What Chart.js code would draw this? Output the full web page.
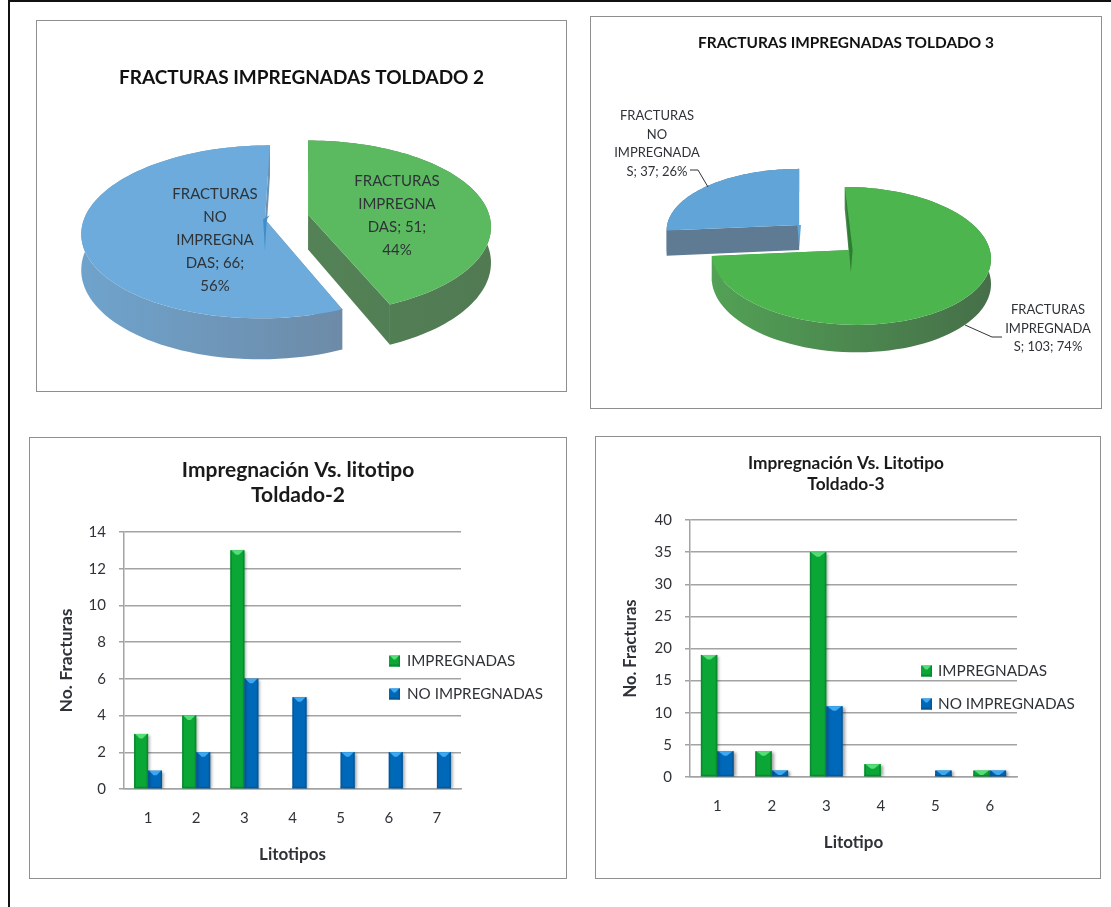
<!DOCTYPE html>
<html>
<head>
<meta charset="utf-8">
<script src="https://cdn.jsdelivr.net/npm/chart.js@4"></script>
<style>
html,body{margin:0;padding:0;background:#fff;overflow:hidden}
#wrap{position:absolute;left:0;top:0;width:1111px;height:907px;filter:blur(0.55px)}
#frameL{position:absolute;left:8px;top:0;width:2px;height:907px;background:#111}
#frameT{position:absolute;left:8px;top:0;width:1103px;height:2px;background:#111}
.box{position:absolute;box-sizing:border-box;border:1px solid #8f8f8f;background:#fff}
.box canvas{position:absolute;left:-1px;top:-1px}
</style>
</head>
<body>
<div id="wrap">
<div id="frameL"></div><div id="frameT"></div>
<div class="box" style="left:36px;top:20px;width:531px;height:372px"><canvas id="c1" width="531" height="372"></canvas></div>
<div class="box" style="left:590px;top:16px;width:512px;height:393px"><canvas id="c2" width="512" height="393"></canvas></div>
<div class="box" style="left:29px;top:437px;width:538px;height:442px"><canvas id="c3" width="538" height="442"></canvas></div>
<div class="box" style="left:595px;top:436px;width:506px;height:443px"><canvas id="c4" width="506" height="443"></canvas></div>
</div>
<script>
// ---------- data ----------
const pieLabels = ['FRACTURAS IMPREGNADAS', 'FRACTURAS NO IMPREGNADAS'];
const pieT2Values = [51, 66];
const pieT3Values = [103, 37];
const pieT2Text = [['FRACTURAS','IMPREGNA','DAS; 51;','44%'], ['FRACTURAS','NO','IMPREGNA','DAS; 66;','56%']];
const pieT3Text = [['FRACTURAS','IMPREGNADA','S; 103; 74%'], ['FRACTURAS','NO','IMPREGNADA','S; 37; 26%']];
const seriesNames = ['IMPREGNADAS', 'NO IMPREGNADAS'];
const litoT2 = ['1','2','3','4','5','6','7'];
const impT2 = [3,4,13,0,0,0,0];
const noImpT2 = [1,2,6,5,2,2,2];
const litoT3 = ['1','2','3','4','5','6'];
const impT3 = [19,4,35,2,0,1];
const noImpT3 = [4,1,11,0,1,1];
// ---------- style ----------
const FONT = 'Lato, "Open Sans", sans-serif';
const TXT = '#2f3338';
const GREEN = '#0aa636', BLUE = '#0068b8';
const GRID = '#a3a3a3';

// keeps each title centred on its whole panel although the plot leaves room for the legend
const titleFull = {
  id: 'titleFull',
  afterLayout(chart) {
    const shift = chart.options.plugins.title.shift || 0;
    chart.titleBlock.left = shift;
    chart.titleBlock.right = chart.width + shift;
  }
};

const pie3d = {
  id: 'pie3d',
  beforeDatasetsDraw(chart, args, o) {
    const ctx = chart.ctx, els = chart.getDatasetMeta(0).data;
    els.forEach((el, i) => {
      const R = el.outerRadius;
      const a0 = el.startAngle + Math.PI/2, a1 = el.endAngle + Math.PI/2, mid = (a0+a1)/2;
      const cx = el.x + Math.sin(mid)*o.explodeX, cy = el.y - Math.cos(mid)*o.explodeY;
      const rx = R*o.kx*o.scaleX[i], ry = R*o.ky*o.scaleY[i], sk = o.skew[i];
      const pt = t => {
        const X = Math.sin(t), Y = Math.cos(t), w = 1 + o.persp*Y;
        return {x: cx + rx*X/w + sk*Y, y: cy - ry*Y/w, d: o.depth/w};
      };
      const N = 90, arc = [];
      for (let k = 0; k <= N; k++) arc.push(pt(a0 + (a1-a0)*k/N));
      const first = arc[0], last = arc[N];
      const grad = ctx.createLinearGradient(cx-rx, 0, cx+rx, 0);
      grad.addColorStop(0, o.wall[i][0]); grad.addColorStop(1, o.wall[i][1]);
      ctx.save();
      ctx.fillStyle = grad;
      [first, last].forEach(e => {
        ctx.beginPath(); ctx.moveTo(cx, cy); ctx.lineTo(e.x, e.y);
        ctx.lineTo(e.x, e.y+e.d); ctx.lineTo(cx, cy+o.depth); ctx.closePath(); ctx.fill();
      });
      ctx.beginPath();
      arc.forEach((p, k) => k ? ctx.lineTo(p.x, p.y) : ctx.moveTo(p.x, p.y));
      for (let k = N; k >= 0; k--) ctx.lineTo(arc[k].x, arc[k].y + arc[k].d);
      ctx.closePath(); ctx.fill();
      ctx.fillStyle = chart.data.datasets[0].backgroundColor[i];
      ctx.beginPath(); ctx.moveTo(cx, cy);
      arc.forEach(p => ctx.lineTo(p.x, p.y));
      ctx.closePath(); ctx.fill();
      if (o.sliver[i]) {
        const e = o.sliver[i].end ? last : first;
        ctx.fillStyle = o.sliver[i].color;
        ctx.beginPath(); ctx.moveTo(e.x, e.y + o.sliver[i].from); ctx.lineTo(cx+1.8, cy);
        ctx.lineTo(cx, cy+o.depth*0.9); ctx.lineTo(cx-1.8, cy); ctx.closePath(); ctx.fill();
      }
      ctx.restore();
    });
    return false;
  },
  afterDraw(chart, args, o) {
    const ctx = chart.ctx;
    ctx.save();
    ctx.strokeStyle = '#333'; ctx.lineWidth = 1;
    (o.leaders||[]).forEach(l => {
      ctx.beginPath(); l.forEach((p,k)=> k?ctx.lineTo(p[0],p[1]):ctx.moveTo(p[0],p[1])); ctx.stroke();
    });
    ctx.fillStyle = TXT; ctx.font = o.font; ctx.textAlign = 'center'; ctx.textBaseline = 'middle';
    o.text.forEach((lines, i) => lines.forEach((s, k) => ctx.fillText(s, o.pos[i][0], o.pos[i][1] + k*o.step)));
    ctx.restore();
  }
};

const barFx = {
  id: 'barFx',
  beforeDatasetDraw(chart) {
    const c = chart.ctx; c.save();
    c.shadowColor = 'rgba(0,0,0,0.38)'; c.shadowBlur = 3; c.shadowOffsetX = 2; c.shadowOffsetY = 1;
  },
  afterDatasetDraw(chart) { chart.ctx.restore(); },
  afterDatasetsDraw(chart, args, o) {
    const c = chart.ctx;
    c.save();
    chart.data.datasets.forEach((ds, di) => {
      chart.getDatasetMeta(di).data.forEach((b, i) => {
        if (!ds.data[i]) return;
        const l = b.x - b.width/2, r = b.x + b.width/2, t = b.y, bt = b.base;
        c.fillStyle = o.edge[di];
        c.fillRect(l, t, 1.5, bt-t); c.fillRect(r-1.5, t, 1.5, bt-t);
        c.fillRect(l, bt-1.5, r-l, 1.5);
        c.fillStyle = o.light[di];
        c.beginPath(); c.moveTo(l+1, t); c.lineTo(r-1, t);
        c.lineTo(b.x + 1.5, t + Math.min(4.5, bt-t)); c.lineTo(b.x - 1.5, t + Math.min(4.5, bt-t));
        c.closePath(); c.fill();
      });
    });
    // legend
    c.font = o.font; c.textBaseline = 'middle'; c.textAlign = 'left';
    chart.data.datasets.forEach((ds, di) => {
      const y = o.ly[di];
      c.fillStyle = ds.backgroundColor; c.fillRect(o.lx, y-5.5, 11, 11);
      c.fillStyle = o.edge[di]; c.fillRect(o.lx, y+3.5, 11, 2); c.fillRect(o.lx+9.5, y-5.5, 1.5, 11);
      c.fillStyle = o.light[di];
      c.beginPath(); c.moveTo(o.lx+1, y-5.5); c.lineTo(o.lx+10, y-5.5); c.lineTo(o.lx+6.5, y-1.5); c.lineTo(o.lx+4.5, y-1.5); c.closePath(); c.fill();
      c.fillStyle = TXT; c.fillText(ds.label, o.tx, y);
    });
    c.restore();
  }
};

function pieChart(id, values, colors, titleCfg, padding, fx) {
  return new Chart(document.getElementById(id), {
    type: 'pie',
    data: { labels: pieLabels, datasets: [{ data: values, backgroundColor: colors, borderWidth: 0, radius: 100 }] },
    options: {
      responsive: false, animation: false, rotation: 0,
      layout: { padding },
      plugins: { legend: {display:false}, tooltip: {enabled:false},
        title: titleCfg, pie3d: fx }
    },
    plugins: [titleFull, pie3d]
  });
}

function barChart(id, labels, a, b, cfg) {
  return new Chart(document.getElementById(id), {
    type: 'bar',
    data: { labels, datasets: [
      { label: seriesNames[0], data: a, backgroundColor: GREEN, borderWidth: 0, categoryPercentage: cfg.cat, barPercentage: 1 },
      { label: seriesNames[1], data: b, backgroundColor: BLUE, borderWidth: 0, categoryPercentage: cfg.cat, barPercentage: 1 }
    ]},
    options: {
      responsive: false, animation: false,
      layout: { padding: { left: 0, right: cfg.right, top: 0, bottom: 0 } },
      scales: {
        x: { grid: {display:false}, border: {color: GRID, width: 1.5},
             ticks: { color: TXT, font: {family: FONT, size: cfg.tick}, padding: 12, maxRotation: 0 },
             title: { display: true, text: cfg.xTitle, color: TXT, font: {family: FONT, size: cfg.axisX, weight: 'bold'}, padding: {top:0,bottom:cfg.xTitlePad} },
             afterFit: s => { s.height = cfg.xH; } },
        y: { min: 0, max: cfg.max,
             grid: { color: GRID, lineWidth: 1.5, tickLength: 5, tickColor: GRID }, border: {color: GRID, width: 1.5},
             ticks: { stepSize: cfg.step, color: TXT, font: {family: FONT, size: cfg.tick}, padding: 13 },
             title: { display: true, text: 'No. Fracturas', color: TXT, font: {family: FONT, size: cfg.axisY, weight: 'bold'}, padding: {top:cfg.yTitlePad,bottom:0} },
             afterFit: s => { s.width = cfg.yW; } }
      },
      plugins: { legend: {display:false}, tooltip: {enabled:false},
        title: { display: true, text: cfg.title, color: '#1a1a1a', shift: cfg.titleShift || 0,
                 font: {family: FONT, size: cfg.titleSize, weight: 'bold', lineHeight: cfg.titleLH},
                 padding: {top: cfg.titleTop, bottom: cfg.titleBottom} },
        barFx: { edge: ['#0a8a30','#0a5796'], light: ['#56dd78','#3da9f2'],
                 font: cfg.legend + 'px ' + FONT, lx: cfg.lx, tx: cfg.tx, ly: cfg.ly }
      }
    },
    plugins: [titleFull, barFx]
  });
}

pieChart('c1', pieT2Values, ['#5bba5f', '#6cabdb'],
  { display: true, text: 'FRACTURAS IMPREGNADAS TOLDADO 2', color: '#111',
    font: {family: FONT, size: 19, weight: 'bold', lineHeight: 1.2}, padding: {top: 46, bottom: 0} },
  { left: 0, right: 30, top: 0, bottom: 47 },
  { kx: 1.81, ky: 0.847, persp: 0.145, depth: 35, explodeX: 22, explodeY: 12,
    scaleX: [1,1], scaleY: [1,1], skew: [0,5],
    wall: [['#578a5a','#517a53'], ['#6fa3cc','#6c8199']],
    sliver: [null, {end:true, from:70, color:'#3f8ecb'}],
    text: pieT2Text, pos: [[361,161],[179,174]], step: 23, font: '15px ' + FONT });

pieChart('c2', pieT3Values, ['#4cb54e', '#60a4d8'],
  { display: true, text: 'FRACTURAS IMPREGNADAS TOLDADO 3', color: '#111',
    font: {family: FONT, size: 15.4, weight: 'bold', lineHeight: 1.2}, padding: {top: 18, bottom: 13.4} },
  { left: 0, right: 42, top: 0, bottom: 0 },
  { kx: 1.39, ky: 0.685, persp: 0.087, depth: 25, explodeX: 35, explodeY: 18.5,
    scaleX: [1,0.95], scaleY: [1,0.89], skew: [-6,0],
    wall: [['#52a155','#466f49'], ['#5f7b93','#5f7b93']],
    sliver: [{end:false, from:0, color:'#2f7d33'}, null],
    text: pieT3Text, pos: [[458,294],[67,100]], step: 18.5, font: '13px ' + FONT,
    leaders: [[[375,309],[402,321],[412,321]], [[100,154],[108,154],[118,171]]] });

barChart('c3', litoT2, impT2, noImpT2, {
  cat: 0.58, right: 106, xH: 90, yW: 95, max: 14, step: 2, tick: 15, legend: 15.2, axisX: 17, axisY: 17.5,
  xTitle: 'Litotipos', xTitlePad: 14, yTitlePad: 27,
  title: ['Impregnación Vs. litotipo', 'Toldado-2'], titleSize: 21, titleLH: 1.19, titleTop: 21, titleBottom: 24,
  lx: 360, tx: 378, ly: [224, 257] });

barChart('c4', litoT3, impT3, noImpT3, {
  cat: 0.6, right: 84, xH: 102, yW: 95, max: 40, step: 5, tick: 15, legend: 15.3, axisX: 17, axisY: 16.5,
  xTitle: 'Litotipo', xTitlePad: 26, yTitlePad: 26,
  title: ['Impregnación Vs. Litotipo', 'Toldado-3'], titleSize: 17.3, titleLH: 1.214, titleTop: 17, titleBottom: 25, titleShift: -2,
  lx: 326, tx: 343, ly: [235, 268] });
</script>
</body>
</html>
